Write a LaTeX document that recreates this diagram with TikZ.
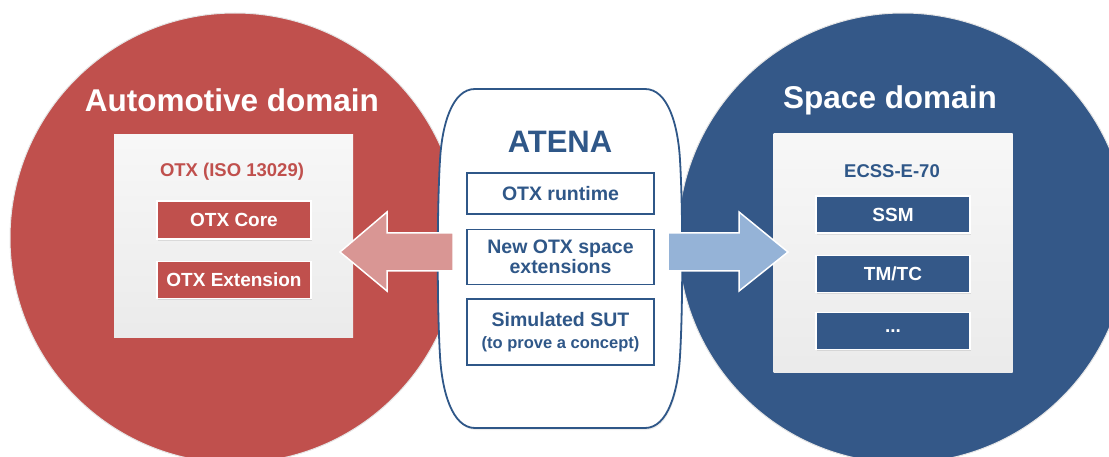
\documentclass[tikz,border=0pt]{standalone}
\usepackage{fontspec}
\setmainfont{Liberation Sans}
\usetikzlibrary{positioning,shadows}
\definecolor{autored}{HTML}{C0504D}
\definecolor{spaceblue}{HTML}{345888}
\definecolor{atenablue}{HTML}{2F5788}
\definecolor{arrowred}{HTML}{D99694}
\definecolor{arrowblue}{HTML}{95B3D7}
\newcommand{\fsz}[1]{\fontsize{#1}{#1}\selectfont}

\begin{document}
\begin{tikzpicture}[x=1pt,y=-1pt,
	domaincircle/.style={circle, minimum size=450pt, inner sep=0pt, draw=black!10, line width=1pt},
	stdbox/.style={minimum width=239pt, inner sep=0pt, top color=white!97!black, bottom color=black!8},
	item/.style={draw=white, line width=1.2pt, minimum width=154pt, minimum height=37pt, inner sep=0pt,
		font=\bfseries\fsz{19}, text=white, drop shadow={opacity=0.2, shadow xshift=1pt, shadow yshift=-2pt}},
	atenaitem/.style={draw=atenablue, fill=white, line width=1.5pt, minimum width=187pt, inner sep=0pt,
		align=center, font=\bfseries\fsz{19.5}, text=atenablue},
	dtitle/.style={font=\bfseries\fsz{31.5}, text=white},
	stitle/.style={font=\bfseries\fsz{18.5}}]
	\useasboundingbox (0,0) rectangle (1109,457);
	% the two domains
	\node[domaincircle, fill=autored] (auto) at (235,238) {};
	\node[domaincircle, fill=spaceblue] (space) at (903,238) {};
	\node[dtitle] (autotitle) at (232,100) {Automotive domain};
	\node[dtitle] (spacetitle) at (890,100) {Space domain};
	% automotive standard
	\node[stdbox, minimum height=202pt] (otx) at (233.5,236) {};
	\node[stitle, text=autored] (otxtitle) at (232,172) {OTX (ISO 13029)};
	\node[item, fill=autored, minimum height=38pt] (core) at (234,220) {OTX Core};
	\node[item, fill=autored, below=21pt of core] (ext) {OTX Extension};
	% space standard
	\node[stdbox, minimum height=238pt] (ecss) at (893,253) {};
	\node[stitle, text=atenablue] (ecsstitle) at (892,171) {ECSS-E-70};
	\node[item, fill=spaceblue] (ssm) at (893,214.5) {SSM};
	\node[item, fill=spaceblue, below=21pt of ssm] (tmtc) {TM/TC};
	\node[item, fill=spaceblue, below=19pt of tmtc] (more) {...};
	% ATENA in the middle
	\node[minimum width=246pt, minimum height=339pt, inner sep=0pt] (atena) at (560,258.5) {};
	\draw[atenablue, fill=white, line width=1.8pt, drop shadow={opacity=0.15, shadow xshift=1pt, shadow yshift=-2pt}]
		(475,89) -- (645,89) .. controls (668,89) and (678,125) .. (680,160)
		.. controls (683,210) and (683,306) .. (680,356)
		.. controls (678,391) and (668,428) .. (645,428) -- (475,428)
		.. controls (452,428) and (442,391) .. (440,356)
		.. controls (437,306) and (437,210) .. (440,160)
		.. controls (442,125) and (452,89) .. cycle;
	\node[font=\bfseries\fsz{31}, text=atenablue] (atenatitle) at (560,142) {ATENA};
	\node[atenaitem, minimum height=41pt] (runtime) at (560.5,193.5) {OTX runtime};
	\node[atenaitem, minimum height=55pt, below=14pt of runtime] (spaceext) {New OTX space\\[1pt]extensions};
	\node[atenaitem, minimum height=66pt, below=13pt of spaceext] (sut) {Simulated SUT\\[2pt]{\fsz{16.5}(to prove a concept)}};
	% block arrows
	\draw[fill=arrowred, draw=white, line width=1.5pt]
		(453,233) -- (387,233) -- (387,212) -- (340,252) -- (387,291) -- (387,271) -- (453,271) -- cycle;
	\draw[fill=arrowblue, draw=white, line width=1.5pt]
		(668,233) -- (739,233) -- (739,212) -- (788,252) -- (739,291) -- (739,271) -- (668,271) -- cycle;
\end{tikzpicture}
\end{document}
